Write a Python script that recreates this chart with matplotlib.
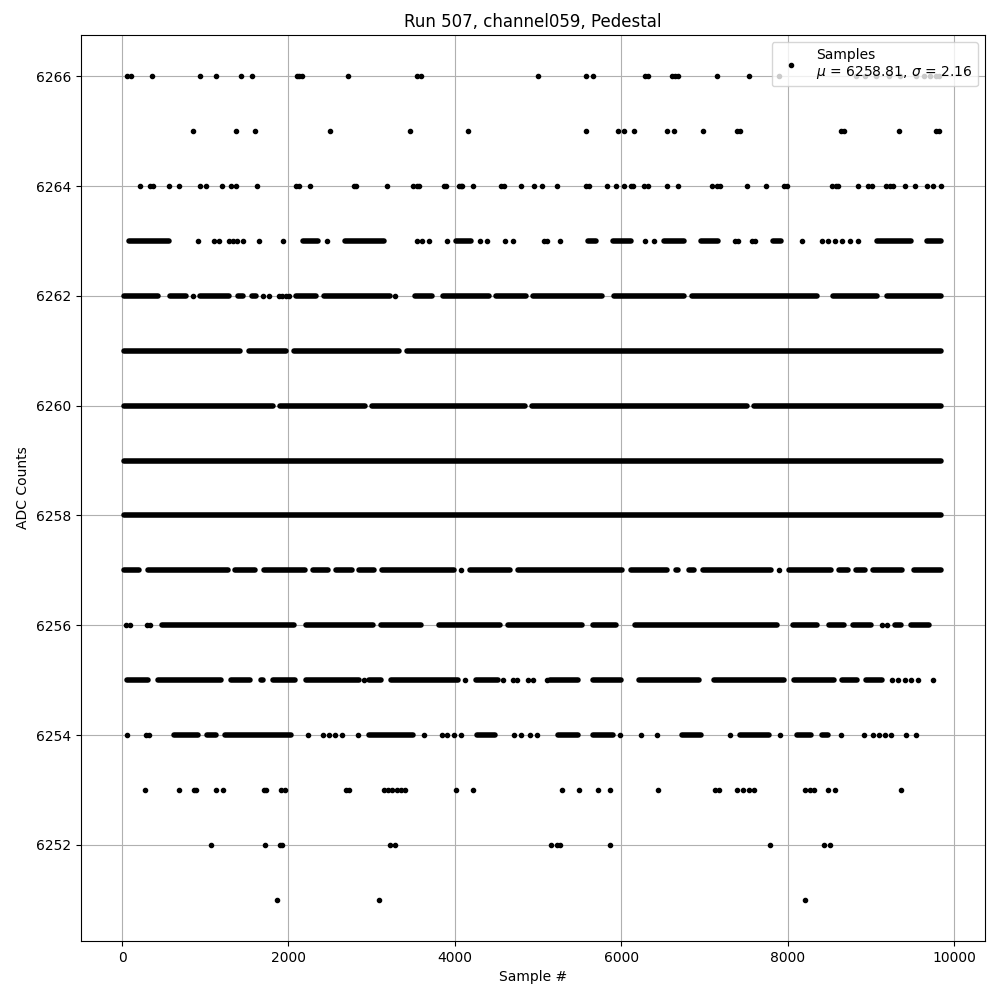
import numpy as np
import matplotlib.pyplot as plt

# isolated samples (sample index), per ADC level
pts_6266 = [60, 110, 360, 938, 1129, 1435, 1557, 2100, 2130, 2160, 2720, 3550, 3590, 5000,
            5583, 5658, 6290, 6320, 6616, 6650, 6680, 7147, 7541, 7895, 8826, 8928, 9064,
            9221, 9350, 9540, 9642, 9710, 9780, 9820]
pts_6265 = [857, 1367, 1598, 2502, 3461, 4155, 5583, 5957, 6038, 6154, 6548, 6637, 6984,
            7398, 7432, 8643, 8680, 9343, 9780, 9820]
pts_6264 = [211, 340, 370, 564, 687, 932, 1007, 1197, 1306, 1367, 1618, 2094, 2130, 2264,
            2790, 2815, 3189, 3495, 3540, 3570, 3876, 3896, 4046, 4070, 4090, 4216, 4556,
            4597, 4801, 4957, 5052, 5229, 5580, 5610, 5834, 5943, 6032, 6113, 6147, 6276,
            6317, 6548, 6684, 7092, 7147, 7194, 7514, 7745, 7956, 7997, 8534, 8588, 8609,
            8847, 8962, 9017, 9187, 9228, 9268, 9418, 9527, 9676, 9744, 9840]
pts_6263 = [916, 1104, 1164, 1284, 1330, 1384, 1456, 1644, 1936, 2464, 3544, 3600, 3684,
            3904, 4304, 4384, 4604, 4704, 5070, 5110, 5270, 6290, 6390, 7370, 7410, 7570,
            7610, 8170, 8410, 8490, 8570, 8650, 8750, 8850]
pts_6262 = [850, 1690, 1770, 1890, 1924, 1975, 2010, 3284]
pts_6257 = [4075, 7895]
pts_6256 = [50, 92, 300, 340, 9132, 9200]
pts_6255 = [2904, 4124, 4584, 4704, 4752, 4884, 4944, 5104, 9250, 9330, 9410, 9490, 9570,
            9750]
pts_6254 = [54, 290, 320, 2230, 2420, 2490, 2560, 2640, 2842, 3624, 3842, 3910, 3990, 4080,
            4712, 4800, 4900, 4985, 5990, 6242, 6433, 7310, 7908, 8643, 8915, 9030, 9100,
            9166, 9248, 9425, 9540]
pts_6253 = [279, 687, 870, 890, 1129, 1210, 1707, 1734, 1911, 1958, 2686, 2727, 3150, 3200,
            3250, 3300, 3350, 3400, 4019, 4223, 5290, 5494, 5719, 5868, 6446, 7126, 7174,
            7398, 7470, 7540, 7602, 8214, 8270, 8316, 8486, 8575, 9370]
pts_6252 = [1074, 1720, 1900, 1920, 3216, 3284, 5160, 5230, 5270, 5868, 7786, 8439, 8507]
pts_6251 = [1863, 3094, 8208]

# stretches of consecutive samples at one level (first, last sample index)
runs_6263 = [(80, 560), (2174, 2354), (2674, 3154), (4014, 4194), (5600, 5700), (5900, 6120),
             (6520, 6760), (6960, 7160), (7820, 7920), (9080, 9480), (9680, 9840)]
runs_6262 = [(20, 430), (575, 770), (935, 1280), (1390, 1450), (1560, 1610), (2090, 2335),
             (2430, 3220), (3520, 3730), (3860, 4410), (4490, 4850), (4945, 5770),
             (5910, 6755), (6850, 8355), (8550, 9070), (9195, 9840)]
runs_6261 = [(20, 1420), (1520, 1970), (2070, 3330), (3420, 9840)]
runs_6260 = [(20, 1810), (1900, 2920), (3010, 4840), (4930, 7510), (7600, 9840)]
runs_6259 = [(20, 9850)]
runs_6258 = [(20, 9850)]
runs_6257 = [(20, 208), (309, 1269), (1363, 1602), (1703, 2200), (2294, 2472), (2566, 2758),
             (2852, 3030), (3124, 3989), (4185, 4669), (4763, 6008), (6116, 6552),
             (6660, 6688), (6816, 6872), (6986, 7797), (8020, 8524), (8618, 8728),
             (8822, 8932), (9026, 9374), (9516, 9840)]
runs_6256 = [(479, 2064), (2206, 3016), (3110, 3594), (3811, 4546), (4640, 5532), (5660, 5940),
             (6170, 7878), (8061, 8354), (8496, 8681), (8788, 9000), (9298, 9361),
             (9489, 9701)]
runs_6255 = [(54, 306), (434, 1194), (1314, 1534), (1674, 1694), (1814, 2074), (2206, 2854),
             (2974, 3114), (3234, 4034), (4254, 4514), (5140, 5480), (5660, 6000),
             (6220, 6940), (7112, 7960), (8080, 8560), (8660, 8840), (8940, 9140)]
runs_6254 = [(628, 908), (1016, 1133), (1240, 2030), (2974, 3492), (4266, 4478), (5239, 5485),
             (5660, 5906), (6728, 6960), (7428, 7776), (8108, 8286), (8414, 8490)]

levels = list(range(6251, 6267))
dots = [pts_6251, pts_6252, pts_6253, pts_6254, pts_6255, pts_6256, pts_6257, [], [], [], [],
        pts_6262, pts_6263, pts_6264, pts_6265, pts_6266]
runs = [[], [], [], runs_6254, runs_6255, runs_6256, runs_6257, runs_6258, runs_6259,
        runs_6260, runs_6261, runs_6262, runs_6263, [], [], []]

mu, sigma = 6258.81, 2.16

fig = plt.figure(figsize=(10, 10), dpi=100)
ax = fig.add_subplot(111)
fig.subplots_adjust(left=0.081, right=0.985, top=0.965, bottom=0.059)

xs, ys = [], []
for lvl, p in zip(levels, dots):
    xs.extend(p)
    ys.extend([lvl] * len(p))
ax.plot(xs, ys, '.', color='k', label='Samples\n$\\mu$ = %.2f, $\\sigma$ = %.2f' % (mu, sigma))

for lvl, r in zip(levels, runs):
    if len(r) == 0:
        continue
    r = np.array(r)
    ax.hlines(np.full(len(r), lvl), r[:, 0], r[:, 1], colors='k', linewidth=4,
              capstyle='round', zorder=2)

ax.set_xlim(-494, 10374)
ax.set_ylim(6250.25, 6266.75)
ax.set_yticks(np.arange(6252, 6267, 2))
ax.set_title('Run 507, channel059, Pedestal')
ax.set_xlabel('Sample #')
ax.set_ylabel('ADC Counts')
ax.grid(True)
ax.legend(loc='upper right')
fig.savefig('out.png')
